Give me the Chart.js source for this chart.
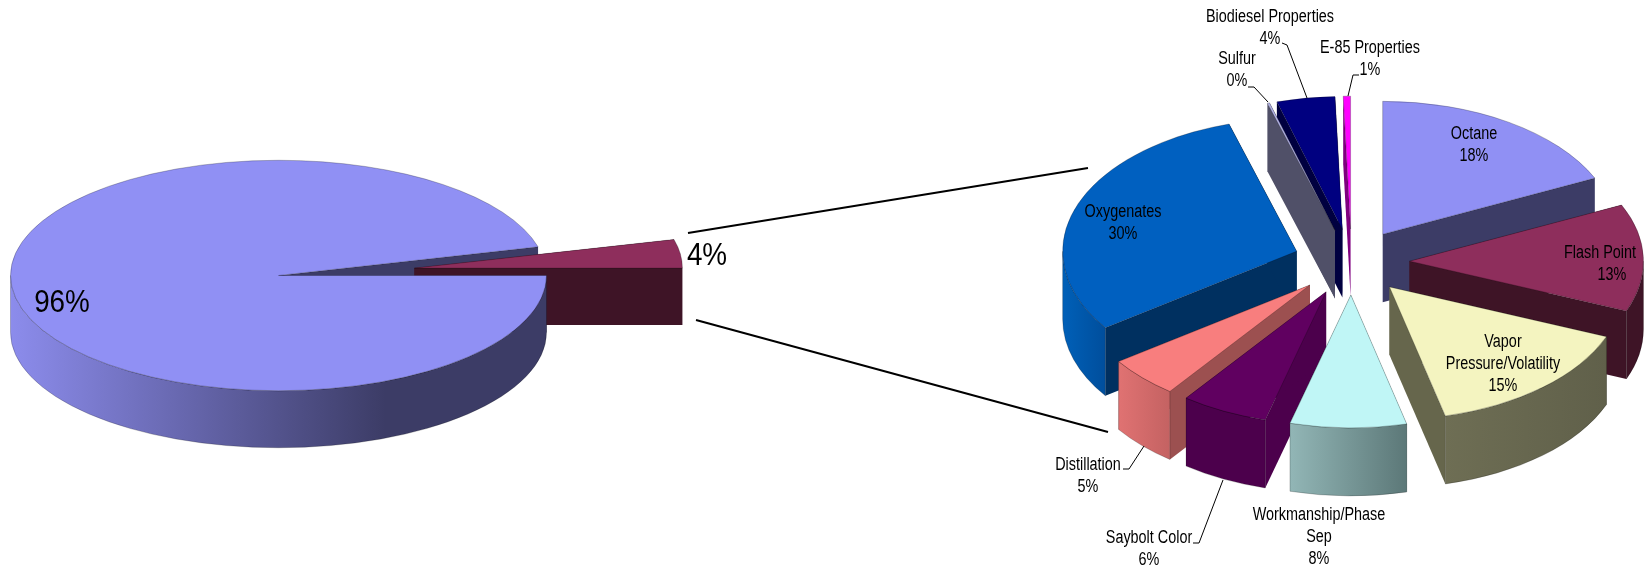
<!DOCTYPE html>
<html>
<head>
<meta charset="utf-8">
<title>Test failures</title>
<script src="https://cdn.jsdelivr.net/npm/chart.js@4/dist/chart.umd.min.js"></script>
<style>
  body { margin: 0; background: #fff; }
  canvas { position: absolute; top: 0; }
  #leftPie { left: 0; }
  #rightPie { left: 660px; }
</style>
</head>
<body>
<canvas id="leftPie" width="760" height="570"></canvas>
<canvas id="rightPie" width="988" height="570"></canvas>
<script>
const left_values = [96, 4];
const left_labels = ["96%", "4%"];

const categories = [
  "Octane", "Flash Point", "Vapor Pressure/Volatility", "Workmanship/Phase Sep", "Saybolt Color",
  "Distillation", "Oxygenates", "Sulfur", "Biodiesel Properties", "E-85 Properties",
];
const values = [18, 13, 15, 8, 6, 5, 30, 0.15, 4, 0.5];
const percent_labels = ["18%", "13%", "15%", "8%", "6%", "5%", "30%", "0%", "4%", "1%"];
const name_lines = [
  ["Octane"], ["Flash Point"], ["Vapor", "Pressure/Volatility"], ["Workmanship/Phase", "Sep"], ["Saybolt Color"],
  ["Distillation"], ["Oxygenates"], ["Sulfur"], ["Biodiesel Properties"], ["E-85 Properties"],
];

// top face, side wall at its light and dark end, cut faces
const left_top = ["#9090f4", "#8e2e5c"];
const left_side_a = ["#8c8cec", "#3e1426"];
const left_side_b = ["#3c3c66", "#3e1426"];
const left_wall = ["#3c3c66", "#3e1426"];

const top_colors = ["#9090f4", "#8e2e5c", "#f4f4c0", "#c0f6f6", "#600060", "#f87e7e", "#0060c0", "#b4b4e8", "#000080", "#ff00ff"];
const side_a = ["#3c3c66", "#3e1426", "#6e6e54", "#92b6b6", "#4c004c", "#e07272", "#0060b8", "#505068", "#000040", "#800080"];
const side_b = ["#3c3c66", "#3e1426", "#60604a", "#5c7878", "#4c004c", "#c46262", "#004e9c", "#505068", "#000040", "#800080"];
const wall_colors = ["#3c3c66", "#3e1426", "#66664c", "#7c9c9c", "#4c004c", "#9c5050", "#003060", "#505068", "#000040", "#800080"];

// page positions of the text, [x, first line y]
const left_label_pos = [[62, 303], [707, 256]];
const name_pos = [
  [1474, 134], [1600, 253], [1503, 342], [1319, 515], [1149, 538],
  [1088, 465], [1123, 212], [1237, 59], [1270, 17], [1370, 48],
];
const leaders = [
  [[1282, 43], [1287, 45], [1307, 98]],
  [[1248, 87], [1254, 87], [1268, 102]],
  [[1359, 75], [1353, 75], [1348, 96]],
  [[1123, 469], [1129, 469], [1144, 446]],
  [[1193, 543], [1199, 543], [1223, 480]],
];
const connectors = [
  [[688, 233], [1088, 168]],
  [[696, 320], [1108, 432]],
];

const font_family = '"Liberation Sans", Arial, sans-serif';

function drawText(ctx, text, x, y, size, squeeze) {
  ctx.save();
  ctx.font = size + "px " + font_family;
  ctx.fillStyle = "#000";
  ctx.textAlign = "center";
  ctx.textBaseline = "middle";
  ctx.translate(x, y);
  ctx.scale(squeeze, 1);
  ctx.fillText(text, 0, 0);
  ctx.restore();
}

function sliceGeom(arc, tilt, depth) {
  const mid = (arc.startAngle + arc.endAngle) / 2;
  const off = arc.options.offset;
  return {
    x: arc.x + Math.cos(mid) * off,
    y: arc.y + Math.sin(mid) * off,
    r: arc.outerRadius,
    d: depth / tilt,
    a0: arc.startAngle,
    a1: arc.endAngle,
  };
}

function tiltAround(ctx, arc, tilt) {
  ctx.translate(0, arc.y);
  ctx.scale(1, tilt);
  ctx.translate(0, -arc.y);
}

// the two cut faces
function drawCuts(ctx, arc, tilt, depth, wall) {
  const g = sliceGeom(arc, tilt, depth);
  ctx.save();
  tiltAround(ctx, arc, tilt);
  ctx.fillStyle = wall;
  [g.a0, g.a1].forEach(function (a) {
    const ex = g.x + Math.cos(a) * g.r;
    const ey = g.y + Math.sin(a) * g.r;
    ctx.beginPath();
    ctx.moveTo(g.x, g.y);
    ctx.lineTo(ex, ey);
    ctx.lineTo(ex, ey + g.d);
    ctx.lineTo(g.x, g.y + g.d);
    ctx.closePath();
    ctx.fill();
  });
  ctx.restore();
}

// the rim and the top face
function drawBody(ctx, arc, tilt, depth, top, sideA, sideB, gradEnd) {
  const g = sliceGeom(arc, tilt, depth);
  ctx.save();
  tiltAround(ctx, arc, tilt);

  // only the part of the rim that faces the viewer, shaded left to right
  for (let turn = -1; turn <= 1; turn++) {
    const from = Math.max(g.a0, turn * 2 * Math.PI);
    const to = Math.min(g.a1, turn * 2 * Math.PI + Math.PI);
    if (to <= from) continue;
    const xa = g.x + Math.cos(to) * g.r;
    const xb = g.x + Math.cos(from) * g.r;
    const grad = ctx.createLinearGradient(xa, 0, Math.max(xb, xa + 1), 0);
    grad.addColorStop(0, sideA);
    grad.addColorStop(gradEnd, sideB);
    grad.addColorStop(1, sideB);
    ctx.beginPath();
    ctx.arc(g.x, g.y, g.r, from, to);
    ctx.arc(g.x, g.y + g.d, g.r, to, from, true);
    ctx.closePath();
    ctx.fillStyle = grad;
    ctx.fill();
    ctx.save();
    ctx.setTransform(1, 0, 0, 1, 0, 0);
    ctx.lineWidth = 0.6;
    ctx.strokeStyle = "rgba(0,0,0,0.35)";
    ctx.stroke();
    ctx.restore();
  }

  ctx.beginPath();
  ctx.moveTo(g.x, g.y);
  ctx.arc(g.x, g.y, g.r, g.a0, g.a1);
  ctx.closePath();
  ctx.fillStyle = top;
  ctx.fill();
  ctx.setTransform(1, 0, 0, 1, 0, 0);
  ctx.lineWidth = 0.6;
  ctx.strokeStyle = "rgba(0,0,0,0.4)";
  ctx.stroke();
  ctx.restore();
}

// paints the arcs of the pie as a tilted disc, back slices first.
// a slice wider than half the pie shows its cut faces behind the others and its body in front
function pie3d(id, tilt, depth, tops, sidesA, sidesB, walls, gradEnd) {
  return {
    id: id,
    beforeDatasetsDraw(chart) {
      const ctx = chart.ctx;
      const arcs = chart.getDatasetMeta(0).data;
      const key = function (a) {
        return a.y + Math.sin((a.startAngle + a.endAngle) / 2) * a.options.offset;
      };
      const order = arcs.map((a, i) => i).sort((p, q) => key(arcs[p]) - key(arcs[q]));
      const big = order.filter((i) => arcs[i].circumference > Math.PI);
      const small = order.filter((i) => arcs[i].circumference <= Math.PI);
      big.forEach((i) => drawCuts(ctx, arcs[i], tilt, depth, walls[i]));
      small.forEach(function (i) {
        drawCuts(ctx, arcs[i], tilt, depth, walls[i]);
        drawBody(ctx, arcs[i], tilt, depth, tops[i], sidesA[i], sidesB[i], gradEnd);
      });
      big.forEach((i) => drawBody(ctx, arcs[i], tilt, depth, tops[i], sidesA[i], sidesB[i], gradEnd));
      return false;
    },
  };
}

new Chart(document.getElementById("leftPie"), {
  type: "pie",
  data: {
    labels: left_labels,
    datasets: [{ data: left_values, backgroundColor: left_top, offset: [0, 137], borderWidth: 0 }],
  },
  options: {
    responsive: false,
    animation: false,
    devicePixelRatio: 1,
    rotation: 90,
    radius: 268,
    layout: { padding: { right: 203, bottom: 19 } },
    plugins: { legend: { display: false }, tooltip: { enabled: false } },
  },
  plugins: [
    pie3d("leftDisc", 0.43, 57, left_top, left_side_a, left_side_b, left_wall, 0.7),
    {
      id: "leftText",
      afterDraw(chart) {
        left_labels.forEach(function (t, i) {
          drawText(chart.ctx, t, left_label_pos[i][0], left_label_pos[i][1], 32, 0.87);
        });
      },
    },
  ],
});

new Chart(document.getElementById("rightPie"), {
  type: "pie",
  data: {
    labels: categories,
    datasets: [{
      data: values,
      backgroundColor: top_colors,
      offset: 58,
      borderWidth: 0,
    }],
  },
  options: {
    responsive: false,
    animation: false,
    devicePixelRatio: 1,
    radius: 234,
    layout: { padding: { left: 395, bottom: 46 } },
    plugins: { legend: { display: false }, tooltip: { enabled: false } },
  },
  plugins: [
    pie3d("rightDisc", 0.568, 68, top_colors, side_a, side_b, wall_colors, 1),
    {
      id: "rightText",
      afterDraw(chart) {
        const ctx = chart.ctx;
        const ox = 660;
        ctx.strokeStyle = "#000";
        ctx.lineWidth = 2;
        connectors.forEach(function (c) {
          ctx.beginPath();
          ctx.moveTo(c[0][0] - ox, c[0][1]);
          ctx.lineTo(c[1][0] - ox, c[1][1]);
          ctx.stroke();
        });
        ctx.lineWidth = 1;
        leaders.forEach(function (l) {
          ctx.beginPath();
          l.forEach(function (p, i) {
            if (i == 0) ctx.moveTo(p[0] - ox, p[1]);
            else ctx.lineTo(p[0] - ox, p[1]);
          });
          ctx.stroke();
        });
        name_lines.forEach(function (lines, i) {
          const p = name_pos[i];
          lines.forEach(function (t, j) {
            drawText(ctx, t, p[0] - ox, p[1] + j * 22, 18, 0.8);
          });
          drawText(ctx, percent_labels[i], p[0] - ox + (i == 1 ? 12 : 0), p[1] + lines.length * 22, 18, 0.8);
        });
      },
    },
  ],
});
</script>
</body>
</html>
